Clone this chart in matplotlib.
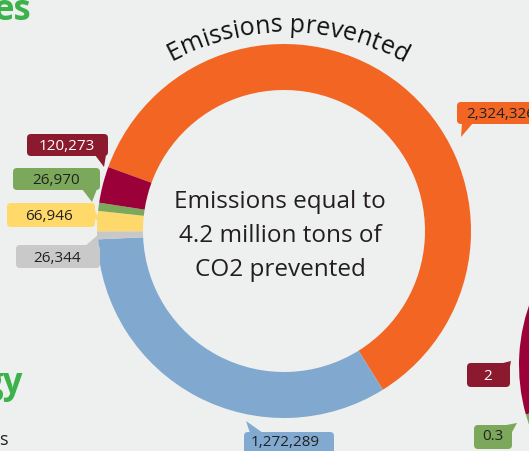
import numpy as np
import matplotlib.pyplot as plt
from matplotlib.patches import FancyBboxPatch, Polygon
from matplotlib.font_manager import FontProperties, findfont
from matplotlib.ft2font import FT2Font

W, H = 529, 451
BG = '#eef0ef'
FONT = 'Open Sans'

# Emissions prevented, by source (ring order, clockwise from the top-left)
emissions = [2324326, 1272289, 26344, 66946, 26970, 120273]
ring_colors = ['#f26522', '#81a8cf', '#c8c8c8', '#ffd86b', '#7aa95c', '#9b0039']

# second donut, only its left edge shows on the right side
right_values = [2, 0.3]
right_total = 19
right_colors = ['#9b0039', '#7aa95c']

center_text = 'Emissions equal to\n4.2 million tons of\nCO2 prevented'
title = 'Emissions prevented'


def iy(y):
    # image row -> data y
    return H - y


fig = plt.figure(figsize=(W / 100, H / 100), dpi=100)
fig.patch.set_facecolor(BG)
ax = fig.add_axes([0, 0, 1, 1])
ax.set_facecolor(BG)

# main donut
cx, cy, R = 284, iy(231), 187
ax.pie(emissions, colors=ring_colors, startangle=160, counterclock=False,
       center=(cx, cy), radius=R, wedgeprops=dict(width=46, linewidth=0),
       frame=True)

# right donut (mostly off the canvas)
ax.pie(np.array(right_values) / right_total, colors=right_colors,
       startangle=157.9, counterclock=True, normalize=False,
       center=(701, iy(365)), radius=182, wedgeprops=dict(width=48, linewidth=0),
       frame=True)
ax.set_xlim(0, W)
ax.set_ylim(0, H)
ax.set_aspect('equal')
ax.axis('off')

ax.text(cx - 4, iy(236), center_text, ha='center', va='center',
        fontsize=17.5, family=FONT, color='#231f20', linespacing=1.55)


# curved title
def arc_text(s, acx, acy, r, mid_deg, size):
    fp = FontProperties(family=FONT, size=size)
    ft = FT2Font(findfont(fp))
    ft.set_size(size, 100)
    adv = []
    for ch in s:
        g = ft.load_char(ord(ch))
        adv.append(g.linearHoriAdvance / 65536)
    total = sum(adv)
    start = np.radians(mid_deg) + total / r / 2
    pos = 0
    for ch, a in zip(s, adv):
        ang = start - (pos + a / 2) / r
        pos += a
        ax.text(acx + r * np.cos(ang), acy + r * np.sin(ang), ch,
                rotation=np.degrees(ang) - 90, rotation_mode='anchor',
                ha='center', va='baseline', fontproperties=fp, color='#111111')


arc_text(title, 286, iy(272), 240, 89.5, 18)

# callouts: label, box (x0, y0, x1, y1) in image px, tail, face, text colour, text x
labels = [f'{v:,}' for v in emissions]
callouts = [
    (labels[5], (27, 134, 108, 156), [(95, 155), (106, 155), (104, 167)], '#8b1a2e', 'white', 67),
    (labels[4], (13, 168, 100, 190), [(82, 189), (97, 189), (92, 202)], '#7ba85a', '#222222', 56),
    (labels[3], (7, 203, 95, 227), [(94, 208), (94, 218), (101, 224)], '#ffd96a', '#222222', 49),
    (labels[2], (16, 245, 100, 268), [(85, 246), (99, 246), (98, 235)], '#c9c9c9', '#222222', 57),
    (labels[0], (457, 102, 545, 124), [(462, 123), (473, 123), (461, 137)], '#f26522', '#222222', 501),
    (labels[1], (244, 432, 334, 460), [(250, 433), (263, 433), (246, 421)], '#82a9cf', '#222222', 285),
    (str(right_values[0]), (467, 363, 510, 387), [(499, 364), (509, 372), (511, 361)], '#8b1a2e', 'white', 488),
    (str(right_values[1]), (474, 425, 512, 449), [(501, 426), (511, 434), (517, 423)], '#7ba85a', '#222222', 493),
]
text_rows = [146, 180, 216, 258, 114, 442, 376, 437]
for (text, (x0, y0, x1, y1), tail, face, tcol, tx), ty in zip(callouts, text_rows):
    ax.add_patch(FancyBboxPatch((x0, iy(y1)), x1 - x0, y1 - y0,
                                boxstyle='round,pad=0,rounding_size=4',
                                facecolor=face, edgecolor='none'))
    ax.add_patch(Polygon([(x, iy(y)) for x, y in tail], closed=True,
                         facecolor=face, edgecolor='none'))
    ax.text(tx, iy(ty), text, ha='center', va='center', fontsize=11,
            family=FONT, color=tcol)

# partial headings cut by the left edge
ax.text(31, iy(20), 'es', ha='right', va='baseline', fontsize=25,
        family=FONT, fontweight='bold', color='#3cb34a')
ax.text(23, iy(393), 'gy', ha='right', va='baseline', fontsize=25,
        family=FONT, fontweight='bold', color='#3cb34a')
ax.text(8, iy(445), 's', ha='right', va='baseline', fontsize=13,
        family=FONT, color='#231f20')

fig.savefig('out.png', dpi=100, facecolor=BG)
